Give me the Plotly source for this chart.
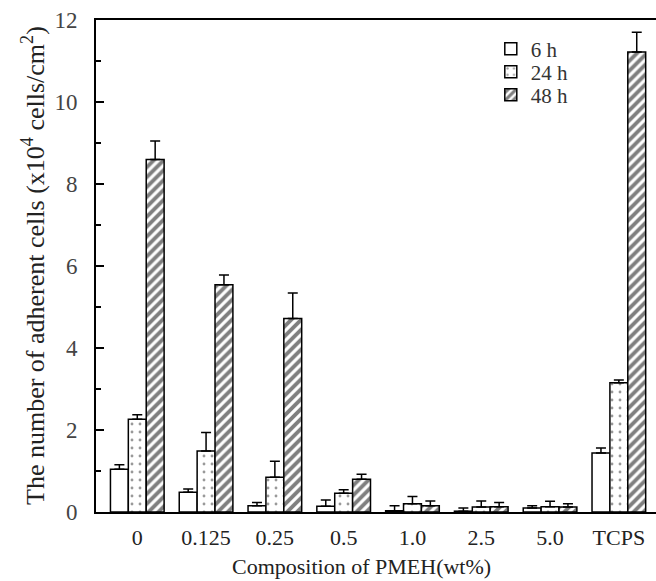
import plotly.graph_objects as go

categories = ["0", "0.125", "0.25", "0.5", "1.0", "2.5", "5.0", "TCPS"]
h6 = [1.04, 0.48, 0.15, 0.14, 0.03, 0.02, 0.10, 1.44]
h6_err = [0.11, 0.08, 0.08, 0.15, 0.12, 0.08, 0.05, 0.12]
h24 = [2.26, 1.49, 0.85, 0.46, 0.20, 0.12, 0.13, 3.15]
h24_err = [0.11, 0.45, 0.39, 0.08, 0.18, 0.15, 0.13, 0.07]
h48 = [8.60, 5.54, 4.72, 0.80, 0.15, 0.13, 0.12, 11.22]
h48_err = [0.45, 0.24, 0.62, 0.12, 0.12, 0.10, 0.08, 0.48]
series_names = ["6 h", "24 h", "48 h"]

FONT = "Liberation Serif, Times New Roman, serif"

def err(arr):
    return dict(type="data", array=arr, arrayminus=[0] * len(arr), symmetric=False,
                color="black", thickness=1.5, width=5)

fig = go.Figure()
fig.add_trace(go.Bar(
    x=categories, y=h6, name=series_names[0], error_y=err(h6_err), legend="legend",
    marker=dict(color="white", line=dict(color="black", width=1.5)),
))
fig.add_trace(go.Bar(
    x=categories, y=h24, name=series_names[1], error_y=err(h24_err), legend="legend2",
    marker=dict(color="white", line=dict(color="black", width=1.5),
                pattern=dict(shape=".", fgcolor="#333", bgcolor="white", size=8, solidity=0.1)),
))
fig.add_trace(go.Bar(
    x=categories, y=h48, name=series_names[2], error_y=err(h48_err), legend="legend3",
    marker=dict(color="white", line=dict(color="black", width=1.5),
                pattern=dict(shape="/", fgcolor="black", bgcolor="white", size=7, solidity=0.55)),
))

def leg(yc):
    return dict(x=0.705, y=(512 - yc) / 492, xanchor="left", yanchor="middle",
                font=dict(size=21, family=FONT, color="#333"),
                bgcolor="rgba(0,0,0,0)", itemwidth=30)

fig.update_layout(
    width=656, height=581,
    margin=dict(l=96, r=0, t=20, b=69),
    paper_bgcolor="white", plot_bgcolor="white",
    barmode="group", bargap=0.22, bargroupgap=0,
    font=dict(family=FONT, color="#222", size=20),
    showlegend=True,
    legend=leg(49), legend2=leg(72), legend3=leg(95),
    xaxis=dict(
        type="category", range=[-0.6, 7.54],
        showline=True, linecolor="black", linewidth=2, mirror=True,
        ticks="", showgrid=False, zeroline=False,
        tickfont=dict(size=22, family=FONT, color="#222"), ticklabelstandoff=5,
    ),
    yaxis=dict(
        range=[0, 12], tickvals=[0, 2, 4, 6, 8, 10, 12],
        showline=True, linecolor="black", linewidth=2,
        ticks="inside", ticklen=8, tickwidth=1.5, tickcolor="black",
        minor=dict(ticks="inside", ticklen=5, tickwidth=1.5, tickcolor="black", dtick=1),
        showgrid=False, zeroline=False,
        tickfont=dict(size=23, family=FONT, color="#444"), ticklabelstandoff=12,
    ),
    annotations=[
        dict(text="The number of adherent cells (x10<sup>4</sup> cells/cm<sup>2</sup>)",
             xref="paper", yref="paper", x=(33 - 96) / 560, y=0.5,
             xanchor="center", yanchor="middle", textangle=-90, showarrow=False,
             font=dict(size=26, family=FONT, color="#222")),
        dict(text="Composition of PMEH(wt%)",
             xref="paper", yref="paper", x=(361 - 96) / 560, y=-(566 - 512) / 492,
             xanchor="center", yanchor="middle", showarrow=False,
             font=dict(size=22, family=FONT, color="#222")),
    ],
)

fig.write_html("out.html")
